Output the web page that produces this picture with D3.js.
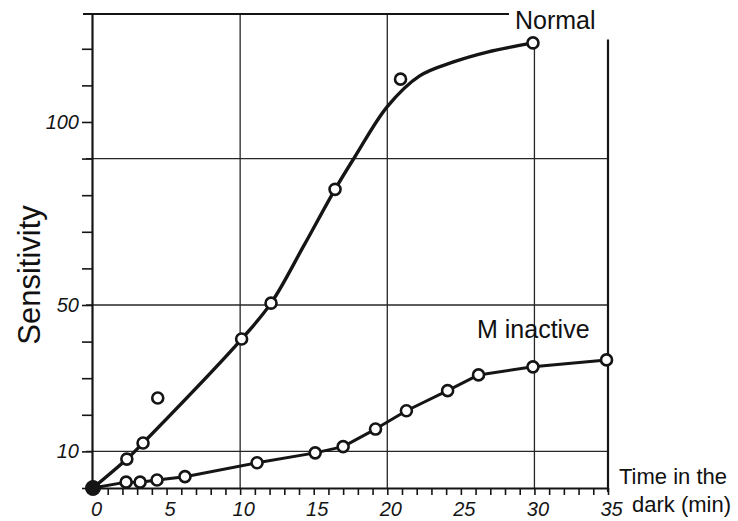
<!DOCTYPE html>
<html>
<head>
<meta charset="utf-8">
<script src="https://cdn.jsdelivr.net/npm/d3@7"></script>
<style>
  html, body { margin: 0; padding: 0; background: #ffffff; }
  svg { display: block; }
</style>
</head>
<body>
<div id="chart"></div>
<script>
// ---------- data ----------
const normalTime = [0, 2.3, 3.4, 4.4, 10.1, 12.1, 16.45, 20.9, 29.9];
const normalSens = [0, 7.9, 12.3, 24.6, 40.7, 50.5, 81.6, 111.7, 121.6];
// smooth hand-drawn curve for "Normal" (the 4.4 min point is an outlier off the curve)
const normalCurveTime = [0, 2.3, 3.4, 10.1, 12.1, 14.3, 16.45, 17.8, 20.0, 22.2, 24.5, 26.8, 29.9];
const normalCurveSens = [0, 7.9, 12.3, 40.7, 50.5, 66.0, 81.6, 90.5, 104.2, 112.6, 116.4, 119.1, 121.6];

const inactiveTime = [0, 2.25, 3.2, 4.35, 6.25, 11.15, 15.1, 17.0, 19.2, 21.3, 24.1, 26.2, 29.9, 34.9];
const inactiveSens = [0, 1.6, 1.6, 2.2, 3.1, 6.9, 9.6, 11.3, 16.1, 21.1, 26.6, 30.9, 33.1, 35.0];

const xTickLabels = [0, 5, 10, 15, 20, 25, 30, 35];
const yTickLabels = [10, 50, 100];
const xGridValues = [10, 20, 30];
const yGridValues = [10, 50, 90];

// ---------- layout ----------
const W = 738, H = 521;
const ink = "#151515";
const svg = d3.select("#chart").append("svg").attr("width", W).attr("height", H);

const x = d3.scaleLinear().domain([0, 35]).range([93, 608]);
const y = d3.scaleLinear().domain([0, 129.5]).range([488, 14]);

// grid lines
const grid = svg.append("g").attr("stroke", "#262626").attr("stroke-width", 1.3);
grid.selectAll("line.h").data(yGridValues).join("line")
  .attr("x1", x(0) - 7).attr("x2", x(35))
  .attr("y1", d => y(d)).attr("y2", d => y(d));
grid.selectAll("line.v").data(xGridValues).join("line")
  .attr("x1", d => x(d)).attr("x2", d => x(d))
  .attr("y1", d => d === 30 ? y(120) : y(129.5)).attr("y2", y(0));

// top frame line and right axis
svg.append("line").attr("x1", x(0) - 10).attr("x2", 509)
  .attr("y1", y(129.5)).attr("y2", y(129.5)).attr("stroke", ink).attr("stroke-width", 2);
svg.append("line").attr("x1", x(35)).attr("x2", x(35))
  .attr("y1", y(122.5)).attr("y2", y(0) + 4).attr("stroke", ink).attr("stroke-width", 2.2);

// x axis
const xAxis = d3.axisBottom(x)
  .tickValues(d3.range(0, 36))
  .tickSize(7).tickSizeOuter(0).tickPadding(7)
  .tickFormat(d => xTickLabels.includes(d) ? d : "");
const gx = svg.append("g").attr("transform", `translate(0,${y(0)})`).call(xAxis);
gx.select(".domain").attr("stroke", ink).attr("stroke-width", 2.2);
gx.selectAll(".tick line").attr("stroke", ink).attr("stroke-width", 1.6);
gx.selectAll(".tick text")
  .attr("fill", ink)
  .style("font-family", "'Liberation Sans', Arial, sans-serif")
  .style("font-style", "italic")
  .style("font-size", "20px")
  .attr("dx", "3");

// y axis
const yAxis = d3.axisLeft(y)
  .tickValues(d3.range(0, 130, 10))
  .tickSize(10).tickSizeOuter(0).tickPadding(3)
  .tickFormat(d => yTickLabels.includes(d) ? d : "");
const gy = svg.append("g").attr("transform", `translate(${x(0) - 1},0)`).call(yAxis);
gy.select(".domain").attr("stroke", ink).attr("stroke-width", 2.2);
gy.selectAll(".tick line").attr("stroke", ink).attr("stroke-width", 1.6);
gy.selectAll(".tick text")
  .attr("fill", ink)
  .style("font-family", "'Liberation Sans', Arial, sans-serif")
  .style("font-style", "italic")
  .style("font-size", "20px");

// curves
const normalCurve = normalCurveTime.map((t, i) => [t, normalCurveSens[i]]);
const inactive = inactiveTime.map((t, i) => [t, inactiveSens[i]]);
const normalPts = normalTime.map((t, i) => [t, normalSens[i]]);

const line = d3.line().x(d => x(d[0])).y(d => y(d[1])).curve(d3.curveCatmullRom.alpha(0.5));
svg.append("path").datum(normalCurve).attr("d", line)
  .attr("fill", "none").attr("stroke", ink).attr("stroke-width", 3.4)
  .attr("stroke-linecap", "round");
svg.append("path").datum(inactive).attr("d", d3.line().x(d => x(d[0])).y(d => y(d[1])))
  .attr("fill", "none").attr("stroke", ink).attr("stroke-width", 3)
  .attr("stroke-linejoin", "round");

// points
function drawPoints(data) {
  svg.append("g").selectAll("circle").data(data).join("circle")
    .attr("cx", d => x(d[0])).attr("cy", d => y(d[1]))
    .attr("r", d => d[0] === 0 ? 6.5 : 5.5)
    .attr("fill", d => d[0] === 0 ? ink : "#ffffff")
    .attr("stroke", ink).attr("stroke-width", 2.6);
}
drawPoints(inactive);
drawPoints(normalPts);

// labels
const font = "'Liberation Sans', Arial, sans-serif";
svg.append("text").attr("x", 515).attr("y", 29).text("Normal")
  .style("font-family", font).style("font-size", "25px").attr("fill", "#111");
svg.append("text").attr("x", 477).attr("y", 338).text("M inactive")
  .style("font-family", font).style("font-size", "25px").attr("fill", "#111");
svg.append("text").attr("transform", "translate(40,275) rotate(-90)")
  .attr("text-anchor", "middle").text("Sensitivity")
  .style("font-family", font).style("font-size", "31px").attr("fill", "#111");
svg.append("text").attr("x", 619).attr("y", 484).text("Time in the")
  .style("font-family", font).style("font-size", "22px").attr("fill", "#111");
svg.append("text").attr("x", 632).attr("y", 512).text("dark (min)")
  .style("font-family", font).style("font-size", "22px").attr("fill", "#111");
</script>
</body>
</html>
